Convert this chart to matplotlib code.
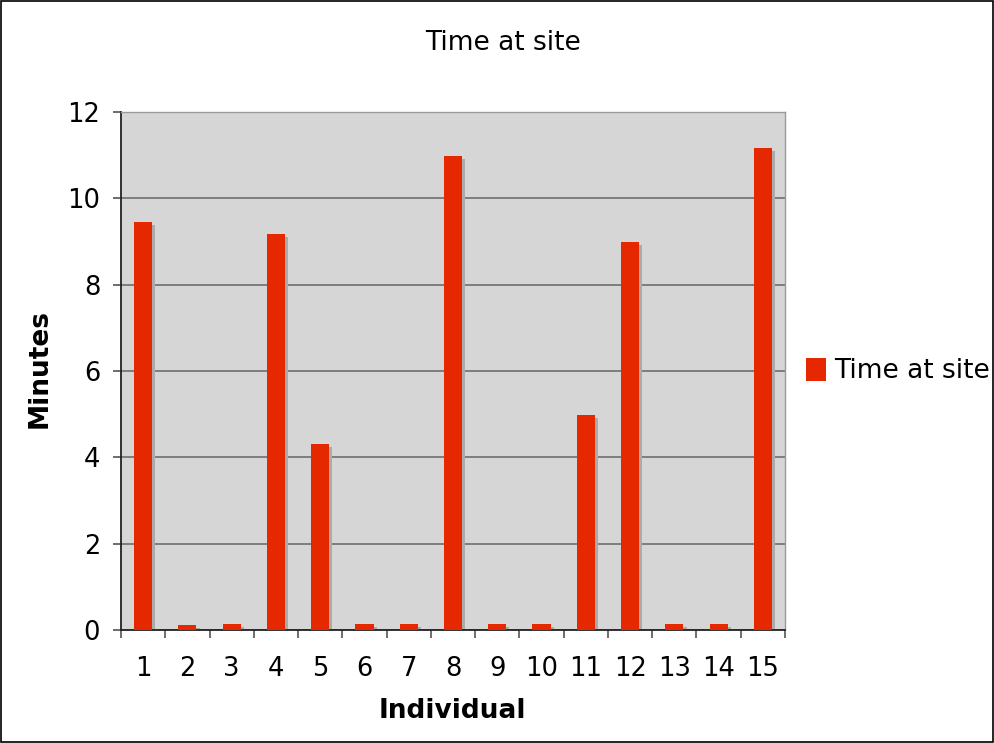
import numpy as np
import matplotlib.pyplot as plt
from matplotlib.patches import Rectangle

# Time spent at the site per individual (minutes)
individuals = [str(i) for i in range(1, 16)]
minutes = [9.45, 0.12, 0.15, 9.17, 4.3, 0.15, 0.15, 10.98, 0.15, 0.15, 4.99, 9.0, 0.15, 0.15, 11.16]

BAR_RED = '#e62800'
PLOT_BG = '#d6d6d6'

plt.rcParams['font.family'] = ['DejaVu Sans']

fig = plt.figure(figsize=(9.94, 7.43), dpi=100)
ax = fig.add_axes([121 / 994, 1 - 630 / 743, (785 - 121) / 994, (630 - 112) / 743])
ax.set_facecolor(PLOT_BG)

x = np.arange(len(minutes))
width = 0.41
# drop shadow behind each bar
ax.bar(x + 0.07, minutes, width, bottom=-0.07, color='#ababab', zorder=2)
ax.bar(x, minutes, width, color=BAR_RED, zorder=3, label='Time at site')

ax.set_xlim(-0.5, len(minutes) - 0.5)
ax.set_ylim(0, 12)
ax.set_yticks(np.arange(0, 13, 2))
ax.yaxis.grid(True, color='#6e6e6e', linewidth=1.2, zorder=1)
ax.set_axisbelow(True)

# category ticks sit between bars, labels centred under bars
ax.set_xticks(np.arange(-0.5, len(minutes)), minor=False)
ax.set_xticklabels([])
ax.set_xticks(x, minor=True)
ax.set_xticklabels(individuals, minor=True)
ax.tick_params(axis='x', which='major', length=5.5, width=1.2, color='#555555')
ax.tick_params(axis='x', which='minor', length=0, labelsize=18.5, pad=19)
ax.tick_params(axis='y', length=6, width=1.2, color='#555555', labelsize=18.5, pad=9)

for side in ['left', 'bottom']:
    ax.spines[side].set_color('#222222')
    ax.spines[side].set_linewidth(1.3)
for side in ['top', 'right']:
    ax.spines[side].set_color('#999999')
    ax.spines[side].set_linewidth(1.0)

fig.text(452 / 994, 1 - 711 / 743, 'Individual', ha='center', va='center',
         fontsize=19, fontweight='bold')
fig.text(40 / 994, 1 - 369 / 743, 'Minutes', ha='center', va='center',
         fontsize=19, fontweight='bold', rotation=90)
fig.text(503 / 994, 1 - 43 / 743, 'Time at site', ha='center', va='center', fontsize=19)

ax.legend(loc='center left', bbox_to_anchor=(1.0, 0.5), frameon=False,
          fontsize=19, handlelength=0.75, handleheight=1.0, handletextpad=0.3,
          borderaxespad=0.4)

# border around the whole figure
fig.patches.append(Rectangle((0.001, 0.001), 0.998, 0.997, transform=fig.transFigure,
                             fill=False, edgecolor='black', linewidth=1.2))

fig.savefig('out.png', dpi=100)
